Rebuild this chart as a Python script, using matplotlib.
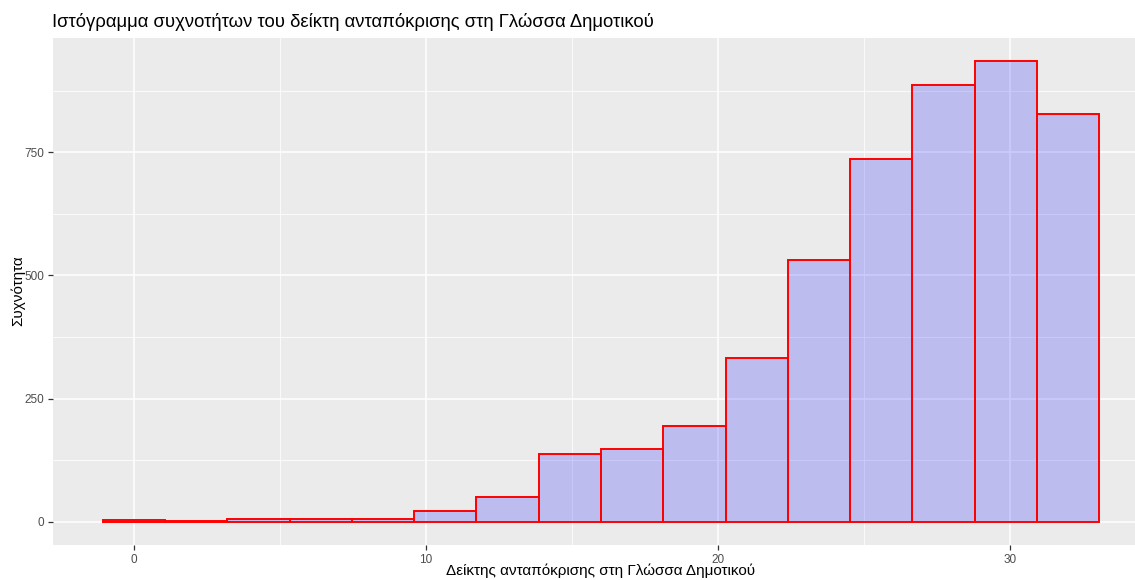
import numpy as np
import matplotlib.pyplot as plt

# histogram counts (16 bins centred on 0, width 32/15)
counts = [3, 2, 6, 6, 7, 23, 51, 137, 149, 194, 333, 531, 736, 887, 935, 828]
score_min, score_max = 0, 32
x_ticks = [0, 10, 20, 30]
y_ticks = [0, 250, 500, 750]

title = "Ιστόγραμμα συχνοτήτων του δείκτη ανταπόκρισης στη Γλώσσα Δημοτικού"
xlabel = "Δείκτης ανταπόκρισης στη Γλώσσα Δημοτικού"
ylabel = "Συχνότητα"

plt.rcParams['font.family'] = ['Liberation Sans', 'DejaVu Sans']

nbins = len(counts)
binwidth = (score_max - score_min) / (nbins - 1)
centers = score_min + np.arange(nbins) * binwidth

fig = plt.figure(figsize=(11.35, 5.8), dpi=100)
# panel runs past the right edge, as in the cropped original
ax = fig.add_axes([53 / 1135, 1 - 545 / 580, 1096 / 1135, 507 / 580])
ax.set_facecolor('#EBEBEB')

ax.bar(centers, counts, width=binwidth, color=(0, 0, 1, 0.2),
       edgecolor='red', linewidth=1.4, zorder=3)

lo = centers[0] - binwidth / 2
hi = centers[-1] + binwidth / 2
pad = (hi - lo) * 0.05
ax.set_xlim(lo - pad, hi + pad)
ymax = max(counts)
ax.set_ylim(-ymax * 0.05, ymax * 1.05)

ax.set_xticks(x_ticks)
ax.set_yticks(y_ticks)
ax.set_xticks([5, 15, 25], minor=True)
ax.set_yticks([125, 375, 625, 875], minor=True)
ax.grid(which='major', color='white', linewidth=1.1, zorder=0)
ax.grid(which='minor', color='white', linewidth=0.55, zorder=0)
ax.set_axisbelow(True)
for s in ax.spines.values():
    s.set_visible(False)
ax.tick_params(which='major', length=3.5, width=0.9, color='#333333',
               labelsize=8.5, labelcolor='#4D4D4D', pad=3)
ax.tick_params(which='minor', length=0)

# labels placed by hand: the panel is wider than the figure
fig.text(601 / 1135, 1 - 571 / 580, xlabel, fontsize=11, ha='center', va='center')
fig.text(18 / 1135, 1 - 291 / 580, ylabel, fontsize=11, ha='center', va='center',
         rotation=90)
fig.text(52 / 1135, 1 - 22 / 580, title, fontsize=13.3, va='center', ha='left')

fig.savefig('out.png', dpi=100)
